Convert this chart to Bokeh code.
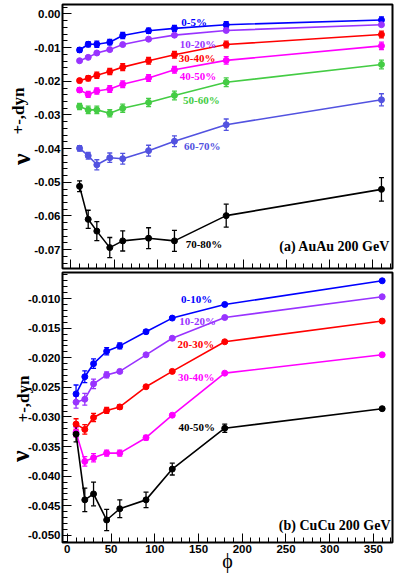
import numpy as np
from bokeh.plotting import figure
from bokeh.models import (ColumnDataSource, Whisker, TeeHead, Label, Range1d,
                          FixedTicker, PrintfTickFormatter, LinearAxis)
from bokeh.layouts import column
from bokeh.embed import file_html
from bokeh.resources import INLINE

# ---------------- data ----------------
phi = [10, 20, 30, 45, 60, 90, 120, 180, 360]

# (a) AuAu 200 GeV
au_names = ["0-5%", "10-20%", "30-40%", "40-50%", "50-60%", "60-70%", "70-80%"]
au_0_5 = [-0.0107, -0.0090, -0.0090, -0.0084, -0.0064, -0.0050, -0.0043, -0.0032, -0.0018]
au_10_20 = [-0.0139, -0.0129, -0.0116, -0.0106, -0.0091, -0.0075, -0.0063, -0.0049, -0.0032]
au_30_40 = [-0.0198, -0.0191, -0.0182, -0.0171, -0.0158, -0.0139, -0.0121, -0.0091, -0.0061]
au_40_50 = [-0.0226, -0.0239, -0.0229, -0.0223, -0.0209, -0.0190, -0.0166, -0.0138, -0.0095]
au_50_60 = [-0.0275, -0.0285, -0.0285, -0.0295, -0.0280, -0.0263, -0.0242, -0.0203, -0.0150]
au_60_70 = [-0.0399, -0.0421, -0.0448, -0.0427, -0.0430, -0.0406, -0.0378, -0.0329, -0.0255]
au_70_80 = [-0.0512, -0.0610, -0.0645, -0.0694, -0.0674, -0.0666, -0.0674, -0.0599, -0.0521]

au_0_5_err = [0.0007, 0.0008, 0.0009, 0.0008, 0.0009, 0.0008, 0.0009, 0.0009, 0.0009]
au_10_20_err = [0.0003, 0.0003, 0.0003, 0.0003, 0.0003, 0.0003, 0.0003, 0.0003, 0.0004]
au_30_40_err = [0.0006, 0.0008, 0.0009, 0.0009, 0.0010, 0.0010, 0.0010, 0.0010, 0.0010]
au_40_50_err = [0.0007, 0.0009, 0.0009, 0.0010, 0.0010, 0.0010, 0.0010, 0.0011, 0.0011]
au_50_60_err = [0.0009, 0.0011, 0.0011, 0.0011, 0.0012, 0.0012, 0.0013, 0.0013, 0.0013]
au_60_70_err = [0.0008, 0.0010, 0.0015, 0.0014, 0.0016, 0.0016, 0.0016, 0.0017, 0.0018]
au_70_80_err = [0.0016, 0.0027, 0.0028, 0.0030, 0.0030, 0.0031, 0.0031, 0.0034, 0.0035]

# (b) CuCu 200 GeV
cu_names = ["0-10%", "10-20%", "20-30%", "30-40%", "40-50%"]
cu_0_10 = [-0.0261, -0.0232, -0.0210, -0.0189, -0.0180, -0.0156, -0.0133, -0.0110, -0.0070]
cu_10_20 = [-0.0275, -0.0270, -0.0244, -0.0229, -0.0223, -0.0195, -0.0167, -0.0132, -0.0097]
cu_20_30 = [-0.0312, -0.0321, -0.0301, -0.0289, -0.0283, -0.0249, -0.0223, -0.0173, -0.0138]
cu_30_40 = [-0.0326, -0.0375, -0.0369, -0.0361, -0.0361, -0.0335, -0.0297, -0.0226, -0.0195]
cu_40_50 = [-0.0329, -0.0440, -0.0430, -0.0474, -0.0455, -0.0440, -0.0388, -0.0319, -0.0286]

cu_0_10_err = [0.0015, 0.0010, 0.0008, 0.0006, 0.0005, 0.0003, 0.0002, 0.0002, 0.0002]
cu_10_20_err = [0.0010, 0.0010, 0.0008, 0.0005, 0.0003, 0.0002, 0.0002, 0.0002, 0.0002]
cu_20_30_err = [0.0009, 0.0008, 0.0007, 0.0005, 0.0004, 0.0002, 0.0002, 0.0002, 0.0002]
cu_30_40_err = [0.0008, 0.0008, 0.0007, 0.0005, 0.0005, 0.0004, 0.0002, 0.0002, 0.0002]
cu_40_50_err = [0.0013, 0.0020, 0.0020, 0.0018, 0.0015, 0.0013, 0.0010, 0.0007, 0.0002]

x_ticks = [0, 50, 100, 150, 200, 250, 300, 350]
au_y_ticks = [0.00, -0.01, -0.02, -0.03, -0.04, -0.05, -0.06, -0.07]
cu_y_ticks = [-0.010, -0.015, -0.020, -0.025, -0.030, -0.035, -0.040, -0.045, -0.050]

# ---------------- style ----------------
C_BLUE = "#0000ff"
C_VIOLET = "#9933ff"
C_RED = "#ff0000"
C_MAG = "#ff00ff"
C_GREEN = "#44cc44"
C_SLATE = "#5252e0"
C_BLACK = "#000000"

TICK_FONT = "Liberation Sans"
TXT_FONT = "Liberation Serif"
NB = "\u00a0"

FRAME_W = 330


def make_fig(xr, yr, fh, bt, bb, yticks, fmt, yminor, show_xlabels):
    p = figure(frame_width=FRAME_W, frame_height=fh,
               x_range=Range1d(*xr), y_range=Range1d(*yr),
               output_backend="svg", toolbar_location=None,
               min_border_left=62, min_border_right=4,
               min_border_top=bt, min_border_bottom=bb)
    p.outline_line_color = "black"
    p.outline_line_width = 2
    p.outline_line_alpha = 1
    p.grid.visible = False
    p.background_fill_color = "white"
    p.border_fill_color = "white"

    p.xaxis.ticker = FixedTicker(ticks=x_ticks, minor_ticks=list(range(0, 371, 10)))
    p.yaxis.ticker = FixedTicker(ticks=yticks, minor_ticks=yminor)
    p.yaxis.formatter = PrintfTickFormatter(format=fmt)
    for ax in (p.xaxis[0], p.yaxis[0]):
        ax.axis_line_color = None
        ax.major_tick_in = 9
        ax.major_tick_out = 0
        ax.minor_tick_in = 5
        ax.minor_tick_out = 0
        ax.major_tick_line_color = "black"
        ax.minor_tick_line_color = "black"
        ax.major_label_text_font = TICK_FONT
        ax.major_label_text_font_style = "bold"
        ax.major_label_text_font_size = "11.5px"
        ax.major_label_text_color = "black"
    p.yaxis.major_label_standoff = 2
    if show_xlabels:
        p.xaxis.major_label_standoff = 2
    else:
        p.xaxis.major_label_overrides = {t: "" for t in x_ticks}
        p.xaxis.major_label_text_font_size = "1px"
        p.xaxis.major_label_standoff = 0
    return p


def add_series(p, y, err, color):
    lo = [a - e for a, e in zip(y, err)]
    hi = [a + e for a, e in zip(y, err)]
    src = ColumnDataSource(dict(x=phi, y=y, lo=lo, hi=hi))
    p.line("x", "y", source=src, line_color=color, line_width=1.6)
    p.add_layout(Whisker(source=src, base="x", lower="lo", upper="hi",
                         line_color=color, line_width=1.3,
                         lower_head=TeeHead(size=5, line_color=color, line_width=1.3),
                         upper_head=TeeHead(size=5, line_color=color, line_width=1.3)))
    p.scatter("x", "y", source=src, marker="circle", size=6,
              fill_color=color, line_color=color)


def add_text(p, x, y, text, color, size="11px", align="left"):
    p.add_layout(Label(x=x, y=y, text=text, text_color=color,
                       text_font=TXT_FONT, text_font_style="bold",
                       text_font_size=size, text_align=align,
                       text_baseline="middle"))


def add_ylabel(p, n_sub_pre, sub_standoff, n_nu_post, nu_standoff):
    # subscript part on the main y axis
    ax = p.yaxis[0]
    ax.axis_label = NB * n_sub_pre + "+-,dyn"
    ax.axis_label_text_font = TXT_FONT
    ax.axis_label_text_font_style = "bold"
    ax.axis_label_text_font_size = "17px"
    ax.axis_label_text_color = "black"
    ax.axis_label_standoff = sub_standoff
    # the large nu on an outer, tick-less axis
    nu = LinearAxis(ticker=FixedTicker(ticks=[]), axis_line_color=None,
                    major_tick_line_color=None, minor_tick_line_color=None,
                    major_tick_out=0, minor_tick_out=0, major_tick_in=0, minor_tick_in=0,
                    major_label_standoff=0,
                    axis_label="\u03bd" + NB * n_nu_post,
                    axis_label_text_font=TXT_FONT, axis_label_text_font_style="bold",
                    axis_label_text_font_size="26px", axis_label_text_color="black",
                    axis_label_standoff=nu_standoff)
    p.add_layout(nu, "left")


# ---------------- (a) AuAu ----------------
au_xr = (-9.8, 372.8)
au_yr = (-0.0756, 0.0028)
H1, H2 = 264, 270
p1 = make_fig(au_xr, au_yr, H1, 4, 2, au_y_ticks, "%.2f",
              [round(-0.074 + 0.002 * i, 3) for i in range(39)], False)

au_series = [au_0_5, au_10_20, au_30_40, au_40_50, au_50_60, au_60_70, au_70_80]
au_errs = [au_0_5_err, au_10_20_err, au_30_40_err, au_40_50_err, au_50_60_err,
           au_60_70_err, au_70_80_err]
au_colors = [C_BLUE, C_VIOLET, C_RED, C_MAG, C_GREEN, C_SLATE, C_BLACK]
for y, e, c in zip(au_series, au_errs, au_colors):
    add_series(p1, y, e, c)

au_text_pos = [(128, -0.0023), (126, -0.0088), (125, -0.0130), (126, -0.0183),
               (130, -0.0257), (131, -0.0391), (133, -0.0682)]
for (tx, ty), name, c in zip(au_text_pos, au_names, au_colors):
    add_text(p1, tx, ty, name, c)
add_text(p1, 370, -0.0691, "(a) AuAu 200 GeV", "black", size="14px", align="right")
add_ylabel(p1, 12, 3, 7, -29)

# ---------------- (b) CuCu ----------------
cu_xr = (-5.5, 371.8)
cu_yr = (-0.0512, -0.0056)
p2 = make_fig(cu_xr, cu_yr, H2, 2, 31, cu_y_ticks, "%.3f",
              [round(-0.051 + 0.001 * i, 3) for i in range(46)], True)

cu_series = [cu_0_10, cu_10_20, cu_20_30, cu_30_40, cu_40_50]
cu_errs = [cu_0_10_err, cu_10_20_err, cu_20_30_err, cu_30_40_err, cu_40_50_err]
cu_colors = [C_BLUE, C_VIOLET, C_RED, C_MAG, C_BLACK]
for y, e, c in zip(cu_series, cu_errs, cu_colors):
    add_series(p2, y, e, c)

cu_text_pos = [(130, -0.0100), (128, -0.0138), (126, -0.0177), (126.5, -0.0233),
               (127, -0.0317)]
for (tx, ty), name, c in zip(cu_text_pos, cu_names, cu_colors):
    add_text(p2, tx, ty, name, c)
add_text(p2, 369.5, -0.0483, "(b) CuCu 200 GeV", "black", size="14px", align="right")
add_ylabel(p2, 4, -8, 15, -24)

p2.xaxis.axis_label = "\u03d5"
p2.xaxis.axis_label_text_font = TXT_FONT
p2.xaxis.axis_label_text_font_style = "normal"
p2.xaxis.axis_label_text_font_size = "20px"
p2.xaxis.axis_label_text_color = "black"
p2.xaxis.axis_label_standoff = -6

layout = column(p1, p2, spacing=0)
open("out.html", "w").write(file_html(layout, INLINE))
